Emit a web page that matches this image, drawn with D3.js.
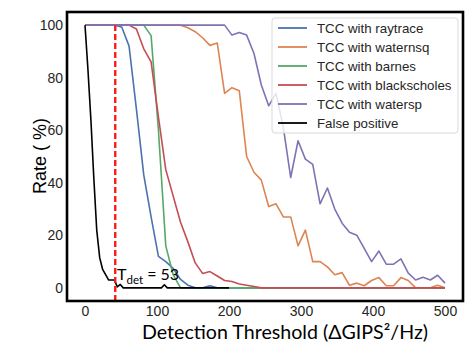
<!DOCTYPE html>
<html>
<head>
<meta charset="utf-8">
<script src="https://cdn.jsdelivr.net/npm/d3@7"></script>
<style>
body { margin: 0; background: #fff; }
</style>
</head>
<body>
<svg id="chart"></svg>
<script>
// thresholds (linspace 0..500, 50 steps) used by the TCC curves
var thresholds = [0, 10.2, 20.4, 30.6, 40.8, 51.0, 61.2, 71.4, 81.6, 91.8,
  102.0, 112.2, 122.4, 132.7, 142.9, 153.1, 163.3, 173.5, 183.7, 193.9,
  204.1, 214.3, 224.5, 234.7, 244.9, 255.1, 265.3, 275.5, 285.7, 295.9,
  306.1, 316.3, 326.5, 336.7, 346.9, 357.1, 367.3, 377.6, 387.8, 398.0,
  408.2, 418.4, 428.6, 438.8, 449.0, 459.2, 469.4, 479.6, 489.8, 500];
// false positive thresholds (0..200)
var fpThresholds = [0, 4.1, 8.2, 12.2, 16.3, 20.4, 24.5, 28.6, 32.7, 36.7,
  40.8, 44.9, 49.0, 53.1, 57.1, 61.2, 65.3, 69.4, 73.5, 77.6,
  81.6, 85.7, 89.8, 93.9, 98.0, 102.0, 106.1, 110.2, 114.3, 118.4,
  122.4, 126.5, 130.6, 134.7, 138.8, 142.9, 146.9, 151.0, 155.1, 159.2,
  163.3, 167.3, 171.4, 175.5, 179.6, 183.7, 187.8, 191.8, 195.9, 200];

var raytrace = [100, 100, 100, 100, 100, 99.3, 92, 68, 43, 27,
  12, 10, 7.4, 3.2, 1, 0, 0, 0.8, 0, 0,
  0, 0, 0, 0, 0, 0, 0, 0, 0, 0,
  0, 0, 0, 0, 0, 0, 0, 0, 0, 0,
  0, 0, 0, 0, 0, 0, 0, 0, 0, 0];
var waternsq = [100, 100, 100, 100, 100, 100, 100, 100, 100, 100,
  100, 100, 100, 100, 99, 97.5, 95.2, 92.3, 93.2, 74,
  76.2, 75, 50, 44, 41, 31, 32, 27, 27, 16,
  22, 10, 10, 8, 5, 5.8, 1, 1.8, 0.8, 2.8,
  3.9, 0.8, 0.8, 3.9, 2.8, 0, 0, 0, 1, 0];
var barnes = [100, 100, 100, 100, 100, 100, 100, 100, 100, 96,
  60, 16, 5, 0, 0, 0, 0, 0, 0, 0,
  0, 0, 0, 0, 0, 0, 0, 0, 0, 0,
  0, 0, 0, 0, 0, 0, 0, 0, 0, 0,
  0, 0, 0, 0, 0, 0, 0, 0, 0, 0];
var blackscholes = [100, 100, 100, 100, 100, 100, 100, 98.5, 91, 86,
  65, 45, 35, 25, 17.5, 9.5, 5.5, 6.2, 4.5, 2.8,
  2.4, 1.5, 1, 0.5, 0, 0, 0, 0, 0, 0,
  0, 0, 0, 0, 0, 0, 0, 0, 0, 0,
  0, 0, 0, 0, 0, 0, 0, 0, 0, 0];
var watersp = [100, 100, 100, 100, 100, 100, 100, 100, 100, 100,
  100, 100, 100, 100, 100, 100, 100, 100, 100, 100,
  96.2, 97.2, 96.2, 89.2, 77.2, 69.3, 74, 61, 42, 56,
  49, 47, 32, 38, 30, 24.6, 21.2, 20, 15, 10,
  14, 9, 9, 11, 5.6, 3, 4, 3, 4.8, 1.8];
var falsePositive = [100, 83, 64, 42, 22, 11.5, 7, 5, 3, 3,
  3, 0.4, 1.3, 0, 0, 0, 0, 0, 0, 0,
  0, 0, 0, 0, 0, 0, 0, 1.2, 0, 0,
  0, 0, 0, 0, 0, 0, 0, 0, 0, 0,
  0, 0, 0, 0, 0, 0, 0, 0, 0, 0];

var seriesNames = ["TCC with raytrace", "TCC with waternsq", "TCC with barnes",
  "TCC with blackscholes", "TCC with watersp", "False positive"];
var seriesColors = ["#4c72b0", "#dd8452", "#55a868", "#c44e52", "#8172b3", "#000000"];
var xTicks = [0, 100, 200, 300, 400, 500];
var yTicks = [0, 20, 40, 60, 80, 100];
var tDet = 42;

var width = 465, height = 345;
var svg = d3.select("#chart").attr("width", width).attr("height", height);

var pLeft = 67, pRight = 463, pTop = 12, pBottom = 301;
var x = d3.scaleLinear().domain([-25, 525]).range([pLeft, pRight]);
var y = d3.scaleLinear().domain([-5, 105]).range([pBottom, pTop]);

var tickFont = "'Liberation Sans', Arial, sans-serif";

// axes (no tick marks, labels only)
var xAxis = svg.append("g")
  .attr("transform", "translate(0," + pBottom + ")")
  .call(d3.axisBottom(x).tickValues(xTicks).tickSize(0).tickPadding(5));
var yAxis = svg.append("g")
  .attr("transform", "translate(" + pLeft + ",0)")
  .call(d3.axisLeft(y).tickValues(yTicks).tickSize(0).tickPadding(4));
[xAxis, yAxis].forEach(function(a) {
  a.select(".domain").remove();
  a.selectAll("text")
    .style("font-family", tickFont)
    .style("font-size", "14px")
    .style("fill", "#262626");
});

// curves
var all = [raytrace, waternsq, barnes, blackscholes, watersp, falsePositive];
var line = d3.line()
  .x(function(d) { return x(d[0]); })
  .y(function(d) { return y(d[1]); });

var plot = svg.append("g");
all.forEach(function(vals, i) {
  var xs = (i == 5) ? fpThresholds : thresholds;
  var pts = vals.map(function(v, j) { return [xs[j], v]; });
  plot.append("path")
    .datum(pts)
    .attr("d", line)
    .attr("fill", "none")
    .attr("stroke", seriesColors[i])
    .attr("stroke-width", 1.6)
    .attr("stroke-linejoin", "round");
});

// detection threshold marker
plot.append("line")
  .attr("x1", x(tDet)).attr("x2", x(tDet))
  .attr("y1", y(-5)).attr("y2", y(100))
  .attr("stroke", "#ff1a1a")
  .attr("stroke-width", 2.4)
  .attr("stroke-dasharray", "6,3");

// T_det label
var ann = svg.append("text")
  .attr("x", 117)
  .attr("y", 280)
  .style("font-family", "Lato, 'Open Sans', sans-serif")
  .style("font-size", "16px")
  .style("fill", "#000");
ann.append("tspan").text("T");
ann.append("tspan").attr("dy", 4).style("font-size", "11.5px").text("det");
ann.append("tspan").attr("dy", -4).text(" = 53");

// frame
svg.append("rect")
  .attr("x", pLeft).attr("y", pTop)
  .attr("width", pRight - pLeft).attr("height", pBottom - pTop)
  .attr("fill", "none")
  .attr("stroke", "#000")
  .attr("stroke-width", 2.6);

// legend
var lg = svg.append("g").attr("transform", "translate(272,18)");
lg.append("rect")
  .attr("width", 186).attr("height", 115)
  .attr("rx", 3)
  .attr("fill", "#fff").attr("fill-opacity", 0.8)
  .attr("stroke", "#d9d9d9").attr("stroke-width", 1);
seriesNames.forEach(function(name, i) {
  var yy = 10 + i * 19;
  lg.append("line")
    .attr("x1", 6).attr("x2", 35)
    .attr("y1", yy).attr("y2", yy)
    .attr("stroke", seriesColors[i])
    .attr("stroke-width", 1.8);
  lg.append("text")
    .attr("x", 45).attr("y", yy + 5)
    .style("font-family", tickFont)
    .style("font-size", "13.3px")
    .style("fill", "#262626")
    .text(name);
});

// axis titles
svg.append("text")
  .attr("transform", "translate(46,156) rotate(-90)")
  .attr("text-anchor", "middle")
  .style("font-family", tickFont)
  .style("font-size", "18px")
  .style("fill", "#000")
  .text("Rate ( %)");

var xt = svg.append("text")
  .attr("x", 285).attr("y", 339)
  .attr("text-anchor", "middle")
  .style("font-family", "Lato, 'Open Sans', sans-serif")
  .style("font-size", "20px")
  .style("fill", "#000")
  .text("Detection Threshold (ΔGIPS²/Hz)");
var w = xt.node().getComputedTextLength();
xt.style("font-size", (20 * 286 / w).toFixed(2) + "px");
</script>
</body>
</html>
